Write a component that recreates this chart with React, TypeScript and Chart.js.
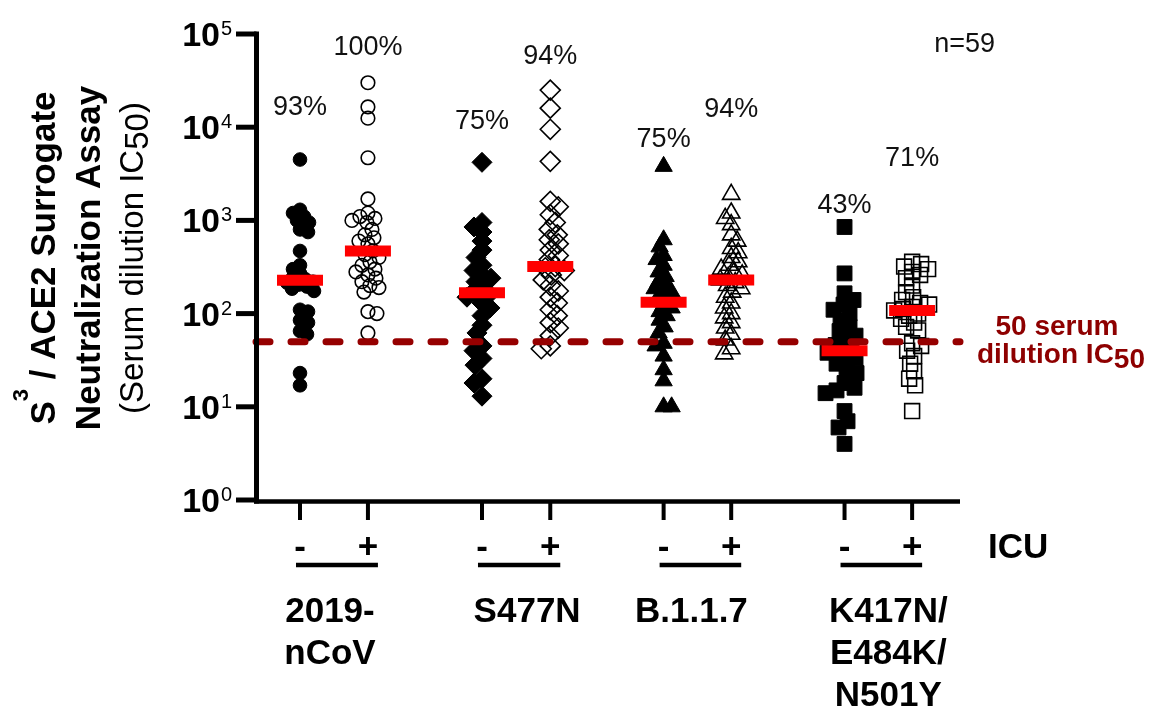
import { useEffect, useRef } from 'react';
import { Chart, registerables } from 'chart.js';

Chart.register(...registerables);

// ---------- data ----------
const categoryLines = [['2019-', 'nCoV'], ['S477N'], ['B.1.1.7'], ['K417N/', 'E484K/', 'N501Y']];
const icuSigns = ['-', '+'];
const groupPositions = [0.625, 1.59, 3.21, 4.18, 5.79, 6.75, 8.36, 9.32];

const nCoV_neg = [4500, 1300, 1200, 1100, 1000, 950, 800, 750, 470, 330, 300, 270, 245, 235, 220, 215, 205, 195, 185, 175, 110, 105, 85, 80, 65, 60, 23, 17];
const nCoV_pos = [30000, 16500, 12500, 4700, 1700, 1200, 1100, 1050, 1000, 950, 800, 700, 650, 600, 560, 470, 430, 400, 360, 330, 300, 280, 260, 240, 220, 200, 190, 170, 105, 100, 62];
const S477N_neg = [4200, 950, 850, 750, 600, 480, 400, 330, 290, 260, 240, 220, 190, 175, 160, 150, 130, 115, 95, 75, 62, 45, 40, 33, 28, 20, 18, 13];
const S477N_pos = [25000, 16000, 9500, 4300, 1600, 1400, 1150, 950, 800, 700, 620, 560, 480, 420, 380, 320, 310, 290, 260, 230, 200, 175, 150, 130, 110, 95, 80, 70, 58, 45, 42];
const B117_neg = [3800, 620, 520, 420, 380, 330, 280, 250, 220, 200, 185, 170, 155, 140, 125, 115, 105, 95, 85, 72, 62, 48, 45, 35, 25, 19, 10, 10];
const B117_pos = [1900, 1200, 1050, 900, 700, 600, 500, 450, 400, 360, 330, 300, 280, 260, 245, 230, 215, 200, 185, 170, 150, 130, 115, 100, 90, 80, 70, 60, 52, 42, 37];
const K417N_neg = [850, 270, 165, 140, 125, 110, 100, 85, 72, 65, 58, 52, 46, 42, 38, 36, 33, 29, 26, 23, 18, 16, 15, 14, 9, 7, 6, 4];
const K417N_pos = [360, 340, 320, 300, 280, 260, 240, 200, 170, 150, 140, 130, 125, 118, 112, 108, 100, 95, 88, 80, 72, 66, 48, 45, 40, 35, 29, 24, 20, 17, 9];

const percentLabels = ['93%', '100%', '75%', '94%', '75%', '94%', '43%', '71%'];
const percentLabelLog = [4.24, 4.88, 4.09, 4.79, 3.9, 4.22, 3.19, 3.69];
const threshold = 50;
const yTickValues = [1, 10, 100, 1000, 10000, 100000];
const yTickExponents = ['0', '1', '2', '3', '4', '5'];
const sampleNote = 'n=59';

// ---------- style ----------
const FONT = '"Liberation Sans", Arial, Helvetica, sans-serif';
const DARK_RED = '#8e0000';
const shapes = ['circle', 'circle', 'rectRot', 'rectRot', 'triangle', 'triangle', 'rect', 'rect'];
const radii = [6.8, 6.8, 10, 10, 10, 10, 10.5, 10.5];
const swarmGap = [7.5, 8.5, 9, 9, 8, 8, 10.5, 8.5];
const labelShift = [-4, 11, -6, 10];

function median(a: number[]) {
  const s = [...a].sort((p, q) => p - q);
  const m = Math.floor(s.length / 2);
  return s.length % 2 ? s[m] : (s[m - 1] + s[m]) / 2;
}

type Run = { text: string; font: string; dy?: number };
function drawRuns(ctx: CanvasRenderingContext2D, runs: Run[], x: number, y: number, align: 'left' | 'center' | 'right') {
  let total = 0;
  runs.forEach((r) => { ctx.font = r.font; total += ctx.measureText(r.text).width; });
  let cx = align === 'left' ? x : align === 'center' ? x - total / 2 : x - total;
  ctx.textAlign = 'left';
  ctx.textBaseline = 'alphabetic';
  runs.forEach((r) => {
    ctx.font = r.font;
    ctx.fillText(r.text, cx, y + (r.dy || 0));
    cx += ctx.measureText(r.text).width;
  });
}

const decorPlugin = {
  id: 'decor',
  afterDraw(chart: any) {
    const ctx: CanvasRenderingContext2D = chart.ctx;
    const { left, right, top, bottom } = chart.chartArea;
    const xs = chart.scales.x;
    const ys = chart.scales.y;
    ctx.save();
    ctx.strokeStyle = '#000';
    ctx.fillStyle = '#000';
    ctx.lineCap = 'butt';
    // y axis
    ctx.lineWidth = 5;
    ctx.beginPath();
    ctx.moveTo(left + 0.5, top - 2.5);
    ctx.lineTo(left + 0.5, bottom + 3.5);
    ctx.stroke();
    // x axis
    ctx.lineWidth = 4.5;
    ctx.beginPath();
    ctx.moveTo(left - 2, bottom + 1.5);
    ctx.lineTo(right, bottom + 1.5);
    ctx.stroke();
    // y ticks + labels
    yTickValues.forEach((v, i) => {
      const py = ys.getPixelForValue(v);
      ctx.lineWidth = 5;
      ctx.beginPath();
      ctx.moveTo(left - 20, py);
      ctx.lineTo(left + 0.5, py);
      ctx.stroke();
      ctx.font = `bold 34px ${FONT}`;
      ctx.textAlign = 'right';
      ctx.textBaseline = 'alphabetic';
      ctx.fillText('10', left - 36, py + 12);
      ctx.font = `20px ${FONT}`;
      ctx.textAlign = 'left';
      ctx.fillText(yTickExponents[i], left - 35, py + 1);
    });
    // x ticks and ICU signs
    groupPositions.forEach((p, i) => {
      const px = xs.getPixelForValue(p);
      ctx.lineWidth = 4;
      ctx.beginPath();
      ctx.moveTo(px, bottom + 1.5);
      ctx.lineTo(px, bottom + 20);
      ctx.stroke();
      ctx.font = `bold 35px ${FONT}`;
      ctx.textAlign = 'center';
      ctx.fillText(icuSigns[i % 2], px, 558);
    });
    // group underlines + category labels
    categoryLines.forEach((lines, g) => {
      const p1 = xs.getPixelForValue(groupPositions[g * 2]);
      const p2 = xs.getPixelForValue(groupPositions[g * 2 + 1]);
      ctx.lineWidth = 4.5;
      ctx.beginPath();
      ctx.moveTo(p1 - 4, 565);
      ctx.lineTo(p2 + 10, 565);
      ctx.stroke();
      ctx.font = `bold 35px ${FONT}`;
      ctx.textAlign = 'center';
      lines.forEach((t, k) => ctx.fillText(t, (p1 + p2) / 2 + labelShift[g], 622 + k * 42));
    });
    ctx.font = `bold 35px ${FONT}`;
    ctx.textAlign = 'left';
    ctx.fillText('ICU', right + 28, 558);
    // percent labels
    ctx.fillStyle = '#111';
    ctx.font = `27px ${FONT}`;
    ctx.textAlign = 'center';
    percentLabels.forEach((t, i) => {
      const px = xs.getPixelForValue(groupPositions[i]);
      const py = ys.getPixelForValue(Math.pow(10, percentLabelLog[i]));
      ctx.fillText(t, px, py + 10);
    });
    ctx.textAlign = 'right';
    ctx.fillText(sampleNote, right + 35, 52);
    // threshold label
    ctx.fillStyle = DARK_RED;
    ctx.font = `bold 28px ${FONT}`;
    ctx.textAlign = 'center';
    ctx.fillText(`${threshold} serum`, right + 97, 335);
    drawRuns(ctx, [
      { text: 'dilution IC', font: `bold 28px ${FONT}` },
      { text: `${threshold}`, font: `bold 28px ${FONT}`, dy: 5 },
    ], right + 17, 363, 'left');
    // y axis title
    ctx.fillStyle = '#000';
    const cy = 258;
    const titleLines: { x: number; runs: Run[] }[] = [
      { x: 55, runs: [
        { text: 'S', font: `bold 35px ${FONT}` },
        { text: '3', font: `bold 22px ${FONT}`, dy: -27 },
        { text: ' / ACE2 Surrogate', font: `bold 35px ${FONT}` },
      ] },
      { x: 100, runs: [{ text: 'Neutralization Assay', font: `bold 35px ${FONT}` }] },
      { x: 143, runs: [
        { text: '(Serum dilution IC', font: `33px ${FONT}` },
        { text: '50', font: `33px ${FONT}`, dy: 5 },
        { text: ')', font: `33px ${FONT}` },
      ] },
    ];
    titleLines.forEach((l) => {
      ctx.save();
      ctx.translate(l.x, cy);
      ctx.rotate(-Math.PI / 2);
      drawRuns(ctx, l.runs, 0, 0, 'center');
      ctx.restore();
    });
    ctx.restore();
  },
};

export default function App() {
  const ref = useRef<HTMLCanvasElement>(null);
  useEffect(() => {
    const canvas = ref.current;
    if (!canvas) return;
    const groups = [nCoV_neg, nCoV_pos, S477N_neg, S477N_pos, B117_neg, B117_pos, K417N_neg, K417N_pos];
    const datasets: any[] = [];
    datasets.push({
      type: 'scatter',
      label: 'median',
      data: groups.map((g, i) => ({ x: groupPositions[i], y: median(g) })),
      pointStyle: 'line',
      pointRadius: 23,
      borderWidth: 11,
      borderColor: '#ff0000',
      backgroundColor: '#ff0000',
      clip: false,
    });
    datasets.push({
      type: 'line',
      label: 'threshold',
      data: [{ x: 0, y: threshold }, { x: 10, y: threshold }],
      borderColor: '#960000',
      borderWidth: 7,
      borderDash: [14, 21],
      borderCapStyle: 'round',
      pointRadius: 0,
      fill: false,
      clip: false,
    });
    groups.forEach((vals, i) => {
      const filled = i % 2 === 0;
      datasets.push({
        type: 'scatter',
        label: `g${i}`,
        data: vals.map((v) => ({ x: groupPositions[i], y: v })),
        pointStyle: shapes[i],
        pointRadius: radii[i],
        borderWidth: filled ? 1 : 1.6,
        borderColor: '#000',
        backgroundColor: filled ? '#000' : 'rgba(255,255,255,0)',
        clip: false,
      });
    });

    const chart = new Chart(canvas, {
      type: 'scatter',
      data: { datasets },
      options: {
        animation: false,
        responsive: false,
        events: [],
        layout: { padding: { left: 256, right: 191, top: 32, bottom: 207 } },
        scales: {
          x: { type: 'linear', min: 0, max: 10, display: false },
          y: { type: 'logarithmic', min: 1, max: 100000, display: false },
        },
        plugins: { legend: { display: false }, tooltip: { enabled: false } },
      },
      plugins: [decorPlugin],
    } as any);

    // beeswarm layout: spread overlapping points horizontally
    const xs: any = chart.scales.x;
    const ys: any = chart.scales.y;
    groups.forEach((vals, gi) => {
      const ds = chart.data.datasets[gi + 2] as any;
      const cx = xs.getPixelForValue(groupPositions[gi]);
      const order = vals.map((v, i) => ({ i, py: ys.getPixelForValue(v) })).sort((a, b) => a.py - b.py);
      const placed: { x: number; y: number }[] = [];
      const gap = swarmGap[gi];
      order.forEach((p, n) => {
        let chosen = 0;
        outer: for (let k = 0; k <= 60; k++) {
          const cands = k === 0 ? [0] : n % 2 ? [k, -k] : [-k, k];
          for (const off of cands) {
            const ok = placed.every((q) => (q.x - off) ** 2 + (q.y - p.py) ** 2 >= gap * gap);
            if (ok) { chosen = off; break outer; }
          }
        }
        placed.push({ x: chosen, y: p.py });
        ds.data[p.i] = { x: xs.getValueForPixel(cx + chosen), y: vals[p.i] };
      });
    });
    chart.update();
    return () => chart.destroy();
  }, []);

  return (
    <div style={{ position: 'fixed', left: 0, top: 0, width: 1151, height: 707, background: '#fff' }}>
      <canvas ref={ref} width={1151} height={707} style={{ width: 1151, height: 707, display: 'block' }} />
    </div>
  );
}
